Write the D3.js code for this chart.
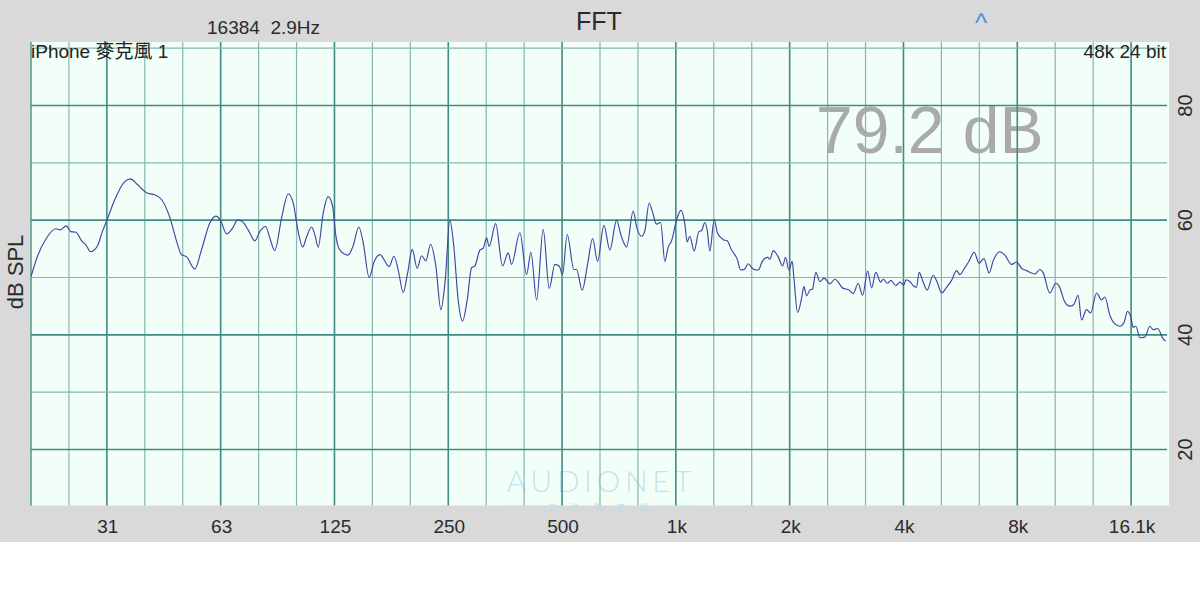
<!DOCTYPE html>
<html>
<head>
<meta charset="utf-8">
<script src="https://cdn.jsdelivr.net/npm/d3@7"></script>
<style>
  html, body { margin: 0; padding: 0; background: #ffffff; }
  svg { display: block; font-family: "Liberation Sans", Arial, "Noto Sans CJK TC", sans-serif; }
</style>
</head>
<body>
<svg id="chart" width="1200" height="590"></svg>
<script>
// ---------------- data ----------------
const freqs = [19.7, 20.4, 21.6, 22.9, 23.5, 24.4, 25.1, 25.9, 26.8, 27.5, 28.3, 29.5, 30.4, 31.3, 32.8, 34.7, 36.1, 37.5, 39.8, 41.9,
  43.6, 45.9, 47.8, 49.2, 50.8, 53.4, 55.6, 58.5, 60.7, 62.6, 64.8, 67.2, 69.3, 71.2, 73.9, 77.0, 79.3, 82.2, 84.3, 86.9,
  90.6, 94.3, 97.2, 100.2, 103.0, 105.5, 108.7, 111.0, 113.2, 116.7, 120.3, 123.6, 126.0, 129.1, 135.8, 140.0, 145.0, 148.9, 154.4, 159.2,
  164.8, 174.5, 179.5, 184.3, 190.0, 195.1, 200.7, 206.9, 212.5, 218.1, 224.4, 231.8, 239.0, 245.4, 252.4, 258.6, 265.6, 272.8, 280.5, 288.2,
  294.0, 303.2, 309.3, 315.8, 320.7, 333.6, 348.0, 360.0, 367.6, 386.7, 402.8, 413.6, 428.2, 445.7, 462.4, 478.7, 491.5, 501.4, 515.9, 537.4,
  546.0, 565.2, 584.0, 602.2, 620.8, 645.0, 669.0, 697.0, 715.6, 740.8, 771.2, 787.4, 811.7, 828.3, 849.8, 867.6, 888.9, 911.4, 935.2, 954.3,
  974.2, 1004, 1031, 1056, 1071, 1089, 1118, 1150, 1170, 1193, 1210, 1230, 1263, 1289, 1334, 1367, 1404, 1453, 1484, 1522,
  1553, 1601, 1651, 1696, 1749, 1773, 1809, 1865, 1916, 1951, 1990, 2031, 2052, 2098, 2151, 2181, 2217, 2262, 2299, 2346,
  2403, 2467, 2555, 2634, 2771, 2856, 2945, 3036, 3119, 3216, 3295, 3380, 3480, 3536, 3630, 3704, 3819, 3912, 4011, 4059,
  4158, 4242, 4331, 4401, 4509, 4620, 4793, 4910, 5047, 5202, 5363, 5529, 5641, 5788, 5967, 6152, 6342, 6530, 6741, 6907,
  7195, 7418, 7728, 7967, 8214, 8468, 8730, 8908, 9183, 9370, 9753, 10118, 10324, 10689, 11019, 11290, 11591, 11835, 12202, 12502,
  12969, 13371, 13642, 14064, 14500, 14949, 15317, 15661, 15978, 16213, 16474, 16877, 17400, 17938, 18302, 18803, 19453, 19779];

const levels = [50.2, 53.4, 56.8, 58.5, 58.3, 59.0, 58.0, 57.9, 56.4, 55.7, 54.5, 55.5, 58.0, 60.1, 63.6, 66.6, 67.2, 66.3, 64.8, 64.4,
  63.6, 60.4, 56.3, 54.0, 53.6, 51.5, 54.8, 59.5, 60.7, 59.8, 57.6, 58.6, 60.0, 59.8, 58.3, 56.4, 58.0, 58.9, 56.9, 54.7,
  60.4, 64.6, 63.0, 58.0, 55.3, 57.1, 58.8, 57.4, 55.3, 61.2, 64.1, 62.4, 57.4, 54.8, 53.9, 55.5, 58.8, 56.1, 50.0, 52.8,
  54.0, 51.9, 53.7, 51.3, 47.4, 50.7, 54.9, 51.6, 53.8, 52.9, 55.8, 52.0, 44.4, 49.5, 60.0, 55.4, 46.0, 42.4, 46.0, 51.7,
  52.0, 54.8, 55.1, 56.9, 55.4, 59.4, 52.0, 54.3, 52.3, 57.8, 50.5, 54.4, 46.1, 58.4, 48.1, 52.3, 52.0, 50.5, 57.5, 51.4,
  51.4, 47.8, 52.3, 56.8, 52.8, 59.1, 54.8, 60.0, 57.4, 55.3, 61.6, 58.8, 57.2, 58.2, 63.0, 61.4, 59.3, 59.6, 52.8, 55.3,
  56.4, 60.0, 61.7, 59.4, 56.2, 57.2, 54.6, 58.0, 58.2, 59.6, 58.3, 54.6, 60.1, 57.7, 56.6, 56.4, 54.8, 53.2, 51.3, 51.5,
  52.4, 51.5, 51.3, 52.9, 53.5, 53.2, 54.7, 53.6, 52.0, 53.5, 51.3, 52.8, 50.0, 43.9, 46.4, 48.4, 46.8, 47.8, 48.0, 50.9,
  49.3, 49.9, 48.9, 49.7, 48.1, 47.9, 47.2, 49.0, 46.9, 51.1, 48.2, 50.9, 49.2, 49.7, 49.0, 49.5, 48.6, 49.2, 48.7, 49.6,
  49.3, 48.6, 48.3, 50.9, 49.2, 47.8, 50.4, 49.2, 47.3, 48.3, 49.5, 51.2, 50.5, 51.5, 52.9, 54.4, 52.5, 53.3, 50.8, 52.9,
  54.5, 53.9, 52.3, 52.7, 51.6, 51.2, 50.8, 50.6, 51.4, 50.8, 47.3, 49.0, 48.5, 45.7, 45.0, 45.3, 46.9, 42.6, 44.4, 43.8,
  47.3, 46.1, 46.6, 43.4, 41.9, 41.5, 42.1, 44.1, 43.1, 41.3, 41.5, 39.5, 39.6, 41.5, 40.9, 41.1, 39.3, 38.9];

const xTickFreqs = [31.25, 62.5, 125, 250, 500, 1000, 2000, 4000, 8000, 16000];
const xTickLabels = ["31", "63", "125", "250", "500", "1k", "2k", "4k", "8k", "16.1k"];
const yTickValues = [20, 40, 60, 80];
const yGridValues = [20, 30, 40, 50, 60, 70, 80, 90];
const gridThirdOctaveSteps = d3.range(-16, 13); // 1000 Hz * 2^(k/3)

const headerText = "16384  2.9Hz";
const titleText = "FFT";
const deviceText = "iPhone 麥克風 1";
const formatText = "48k 24 bit";
const levelText = "79.2 dB";
const yAxisTitle = "dB SPL";
const watermarkText = "AUDIONET";
const watermarkSub = ["普", "洛", "影", "音", "網"];

// ---------------- layout ----------------
const W = 1200, H = 590;
const plot = { left: 31, right: 1169, top: 42, bottom: 505.5 };

const svg = d3.select("#chart");

const x = d3.scaleLog()
  .domain([1000 * Math.pow(2, -17 / 3), 1000 * Math.pow(2, 13 / 3)])
  .range([plot.left, plot.right]);
const y = d3.scaleLinear().domain([20, 80]).range([449.5, 105.5]);

// backgrounds
svg.append("rect").attr("x", 0).attr("y", 0).attr("width", W).attr("height", 542).attr("fill", "#d9d9d9");
svg.append("rect").attr("x", plot.left).attr("y", plot.top)
  .attr("width", plot.right - plot.left).attr("height", plot.bottom - plot.top)
  .attr("fill", "#f2fff8");

// big level readout (under the grid)
svg.append("text").attr("x", 816).attr("y", 153)
  .attr("font-size", 66).attr("fill", "#aaaaaa").text(levelText);

// watermark (under the grid)
const wm = svg.append("g").attr("opacity", 0.85);
wm.append("text").attr("x", 599).attr("y", 492).attr("text-anchor", "middle")
  .attr("font-family", "Lato, 'Open Sans', sans-serif").attr("font-weight", 300)
  .attr("font-size", 30).attr("textLength", 185).attr("lengthAdjust", "spacing")
  .attr("fill", "#b9dff0").text(watermarkText);
wm.selectAll("text.sub").data(watermarkSub).enter().append("text")
  .attr("class", "sub")
  .attr("x", (d, i) => 552 + i * 23).attr("y", 511)
  .attr("text-anchor", "middle").attr("font-size", 9)
  .attr("font-family", "'Noto Sans CJK TC', sans-serif")
  .attr("fill", "#b9dff0").text(d => d);
wm.append("line").attr("x1", 507).attr("x2", 542).attr("y1", 506).attr("y2", 506).attr("stroke", "#c4e4f2").attr("stroke-width", 1);
wm.append("line").attr("x1", 656).attr("x2", 692).attr("y1", 506).attr("y2", 506).attr("stroke", "#c4e4f2").attr("stroke-width", 1);

// grid
const grid = svg.append("g");
grid.selectAll("line.v").data(gridThirdOctaveSteps).enter().append("line")
  .attr("class", "v")
  .attr("x1", k => x(1000 * Math.pow(2, k / 3))).attr("x2", k => x(1000 * Math.pow(2, k / 3)))
  .attr("y1", plot.top).attr("y2", plot.bottom)
  .attr("stroke", k => (k % 3 === 0 ? "#3f8b84" : "#86b6b0"))
  .attr("stroke-width", k => (k % 3 === 0 ? 1.6 : 1.2));
grid.selectAll("line.h").data(yGridValues).enter().append("line")
  .attr("class", "h")
  .attr("x1", plot.left).attr("x2", plot.right - 2)
  .attr("y1", v => y(v)).attr("y2", v => y(v))
  .attr("stroke", v => (v % 20 === 0 ? "#3f8b84" : "#86b6b0"))
  .attr("stroke-width", v => (v % 20 === 0 ? 1.6 : 1.2));
// left border
grid.append("line").attr("x1", plot.left).attr("x2", plot.left)
  .attr("y1", plot.top).attr("y2", plot.bottom)
  .attr("stroke", "#4f9690").attr("stroke-width", 1.5);

// curve
svg.append("clipPath").attr("id", "clip").append("rect")
  .attr("x", plot.left).attr("y", plot.top)
  .attr("width", plot.right - plot.left).attr("height", plot.bottom - plot.top);
const pts = freqs.map((f, i) => [f, levels[i]]);
const line = d3.line().x(d => x(d[0])).y(d => y(d[1])).curve(d3.curveMonotoneX);
svg.append("path").attr("clip-path", "url(#clip)")
  .attr("d", line(pts)).attr("fill", "none")
  .attr("stroke", "#4343a3").attr("stroke-width", 1.15).attr("stroke-linejoin", "round");

// x labels
svg.selectAll("text.xt").data(xTickFreqs).enter().append("text")
  .attr("class", "xt").attr("x", f => x(f) + 1).attr("y", 533)
  .attr("text-anchor", "middle").attr("font-size", 19).attr("fill", "#2b2b2b")
  .text((f, i) => xTickLabels[i]);

// right y labels (rotated)
svg.selectAll("text.yt").data(yTickValues).enter().append("text")
  .attr("class", "yt")
  .attr("transform", v => `translate(1192,${y(v)}) rotate(-90)`)
  .attr("text-anchor", "middle").attr("font-size", 20).attr("fill", "#2b2b2b")
  .text(v => v);

// y axis title
svg.append("text").attr("transform", "translate(23,272) rotate(-90)")
  .attr("text-anchor", "middle").attr("font-size", 22).attr("fill", "#2b2b2b")
  .text(yAxisTitle);

// headers
svg.append("text").attr("x", 207).attr("y", 34).attr("font-size", 19)
  .attr("fill", "#2b2b2b").style("white-space", "pre").text(headerText);
svg.append("text").attr("x", 599).attr("y", 30).attr("text-anchor", "middle")
  .attr("font-size", 25).attr("fill", "#2b2b2b").text(titleText);
svg.append("text").attr("x", 981).attr("y", 32).attr("text-anchor", "middle")
  .attr("font-size", 26).attr("fill", "#4a8fe0").text("^");
svg.append("text").attr("x", 31).attr("y", 58).attr("font-size", 19)
  .attr("fill", "#222").text(deviceText);
svg.append("text").attr("x", 1166).attr("y", 58).attr("text-anchor", "end")
  .attr("font-size", 19).attr("fill", "#222").text(formatText);
</script>
</body>
</html>
